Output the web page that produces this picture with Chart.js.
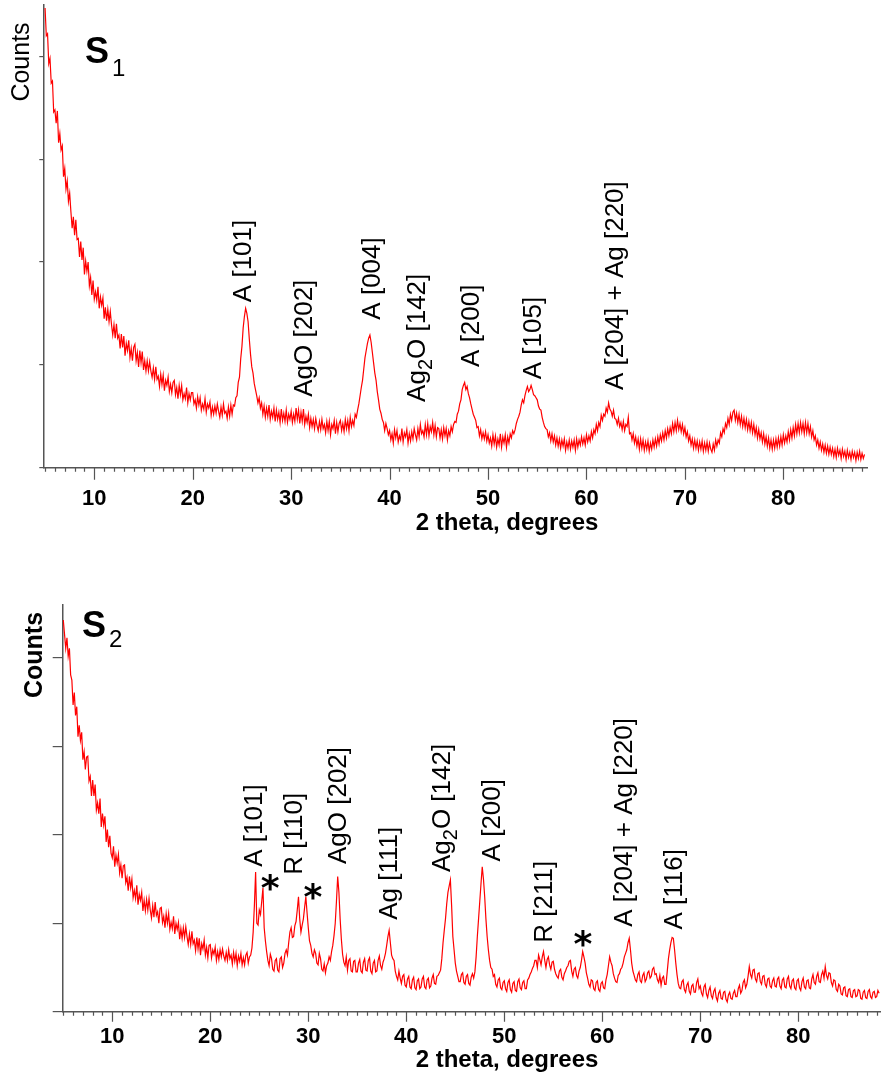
<!DOCTYPE html>
<html>
<head>
<meta charset="utf-8">
<script src="https://cdn.jsdelivr.net/npm/chart.js@4.4.1/dist/chart.umd.min.js"></script>
<style>
  html, body { margin: 0; padding: 0; background: #fff; }
  #wrap { position: relative; width: 881px; height: 1079px; }
  canvas { position: absolute; left: 0; }
  #s1 { top: 0; }
  #s2 { top: 545px; }
</style>
</head>
<body>
<div id="wrap">
  <canvas id="s1" width="881" height="545"></canvas>
  <canvas id="s2" width="881" height="534"></canvas>
</div>
<script>
// scan grid: 2 theta from 5.000 in 0.125 degree steps
const thetaStart = 5.0;
const thetaStep = 0.125;

const xTicks = [10, 20, 30, 40, 50, 60, 70, 80];
const yTicks = [0, 1, 2, 3, 4];

// intensity, arbitrary units (1 = one y tick), one row per 5 degrees
const s1Counts = [
  4.47,4.20,4.22,3.93,3.98,3.74,3.76,3.46,3.48,3.35,3.47,3.16,3.25,3.09,3.13,2.83,2.91,2.71,2.79,2.59,2.67,2.49,2.33,2.44,2.26,2.41,2.22,2.23,2.05,2.20,2.02,2.14,1.88,2.01,1.91,2.00,1.77,1.85,1.68,1.82,
  1.64,1.71,1.63,1.76,1.55,1.66,1.58,1.65,1.45,1.56,1.43,1.54,1.42,1.52,1.39,1.29,1.39,1.26,1.40,1.26,1.29,1.16,1.30,1.17,1.28,1.09,1.21,1.14,1.24,1.07,1.16,1.04,1.17,1.20,1.04,1.12,0.98,1.14,1.02,1.13,
  0.95,1.04,0.94,1.04,0.94,1.03,0.94,0.88,0.97,0.86,0.98,0.86,0.89,0.79,0.91,0.81,0.90,0.75,0.85,0.80,0.88,0.74,0.81,0.73,0.83,0.85,0.71,0.78,0.67,0.80,0.71,0.80,0.66,0.72,0.67,0.78,0.63,0.72,0.66,0.73,
  0.73,0.62,0.66,0.58,0.69,0.61,0.68,0.56,0.62,0.57,0.67,0.54,0.62,0.58,0.64,0.51,0.59,0.52,0.60,0.53,0.62,0.55,0.49,0.59,0.51,0.62,0.53,0.55,0.48,0.59,0.50,0.61,0.52,0.61,0.60,0.68,0.70,0.83,0.88,1.06,
  1.18,1.36,1.47,1.55,1.50,1.42,1.25,1.10,0.98,0.92,0.82,0.76,0.70,0.63,0.68,0.58,0.63,0.52,0.60,0.49,0.58,0.50,0.61,0.47,0.55,0.49,0.58,0.45,0.56,0.47,0.54,0.44,0.57,0.46,0.53,0.45,0.56,0.44,0.52,0.47,
  0.55,0.44,0.52,0.45,0.58,0.47,0.56,0.43,0.54,0.45,0.57,0.42,0.50,0.44,0.52,0.39,0.48,0.40,0.47,0.38,0.48,0.41,0.36,0.45,0.37,0.47,0.38,0.42,0.34,0.45,0.36,0.45,0.32,0.42,0.38,0.46,0.33,0.44,0.35,0.43,
  0.46,0.36,0.43,0.35,0.47,0.38,0.46,0.36,0.49,0.40,0.46,0.41,0.52,0.49,0.56,0.62,0.70,0.78,0.85,0.96,1.07,1.14,1.21,1.26,1.29,1.22,1.12,1.02,0.92,0.85,0.74,0.66,0.57,0.53,0.47,0.44,0.36,0.43,0.38,0.32,
  0.36,0.27,0.33,0.24,0.37,0.29,0.36,0.25,0.31,0.27,0.38,0.25,0.34,0.30,0.37,0.24,0.33,0.26,0.35,0.28,0.38,0.32,0.27,0.38,0.30,0.42,0.33,0.36,0.30,0.42,0.32,0.43,0.31,0.40,0.35,0.44,0.32,0.41,0.30,0.39,
  0.38,0.29,0.37,0.28,0.39,0.31,0.38,0.27,0.36,0.31,0.40,0.35,0.42,0.45,0.44,0.52,0.55,0.62,0.66,0.76,0.80,0.83,0.76,0.79,0.72,0.68,0.62,0.57,0.52,0.49,0.46,0.39,0.40,0.31,0.37,0.28,0.34,0.28,0.35,0.26,
  0.32,0.24,0.29,0.21,0.32,0.23,0.31,0.20,0.28,0.22,0.33,0.20,0.30,0.24,0.32,0.20,0.30,0.24,0.33,0.29,0.36,0.33,0.37,0.43,0.47,0.50,0.54,0.61,0.66,0.63,0.70,0.75,0.79,0.74,0.76,0.80,0.76,0.71,0.70,0.68,
  0.66,0.60,0.57,0.56,0.49,0.44,0.40,0.38,0.37,0.30,0.34,0.26,0.33,0.25,0.31,0.22,0.29,0.21,0.28,0.19,0.27,0.21,0.28,0.17,0.25,0.19,0.27,0.18,0.26,0.20,0.27,0.17,0.28,0.20,0.27,0.22,0.30,0.23,0.29,0.22,
  0.32,0.25,0.31,0.26,0.35,0.29,0.37,0.33,0.42,0.36,0.44,0.40,0.51,0.46,0.52,0.50,0.58,0.54,0.63,0.57,0.55,0.50,0.56,0.48,0.47,0.42,0.48,0.40,0.44,0.37,0.45,0.36,0.42,0.40,0.49,0.33,0.34,0.27,0.33,0.24,
  0.30,0.21,0.28,0.18,0.28,0.19,0.27,0.17,0.25,0.18,0.26,0.16,0.24,0.18,0.27,0.20,0.28,0.21,0.30,0.23,0.32,0.26,0.34,0.27,0.36,0.29,0.38,0.31,0.39,0.33,0.43,0.35,0.44,0.36,0.46,0.37,0.43,0.35,0.42,0.33,
  0.39,0.30,0.35,0.26,0.31,0.22,0.28,0.19,0.27,0.19,0.26,0.17,0.25,0.18,0.26,0.16,0.24,0.17,0.25,0.16,0.24,0.18,0.15,0.23,0.17,0.27,0.21,0.27,0.24,0.34,0.30,0.38,0.34,0.43,0.39,0.48,0.42,0.52,0.46,0.54,
  0.56,0.46,0.53,0.44,0.52,0.42,0.50,0.40,0.48,0.39,0.47,0.37,0.45,0.36,0.44,0.34,0.42,0.32,0.39,0.29,0.37,0.28,0.34,0.25,0.33,0.23,0.30,0.21,0.29,0.19,0.27,0.18,0.27,0.19,0.28,0.20,0.29,0.21,0.30,0.22,
  0.32,0.24,0.31,0.25,0.35,0.27,0.37,0.29,0.39,0.31,0.42,0.33,0.43,0.34,0.44,0.35,0.43,0.33,0.44,0.34,0.43,0.33,0.40,0.30,0.36,0.27,0.31,0.22,0.27,0.19,0.25,0.17,0.23,0.15,0.22,0.14,0.21,0.13,0.20,0.13,
  0.19,0.11,0.18,0.10,0.19,0.12,0.17,0.09,0.18,0.11,0.16,0.08,0.17,0.10,0.15,0.08,0.16,0.10,0.15,0.07,0.15,0.09,0.16,0.08,0.14,0.09,0.13
];

const s2Counts = [
  4.43,4.27,4.11,4.23,4.02,4.11,3.81,3.75,3.47,3.61,3.35,3.45,3.11,3.24,3.07,3.16,2.85,2.94,2.74,2.88,2.89,2.61,2.66,2.44,2.62,2.44,2.57,2.28,2.36,2.24,2.41,2.09,2.24,2.11,2.21,1.92,2.06,1.86,1.99,1.79,
  1.74,1.87,1.64,1.77,1.68,1.78,1.57,1.66,1.51,1.65,1.66,1.46,1.52,1.37,1.53,1.40,1.50,1.29,1.37,1.28,1.43,1.21,1.33,1.26,1.35,1.14,1.26,1.14,1.27,1.15,1.28,1.15,1.06,1.20,1.07,1.24,1.09,1.13,1.00,1.17,
  1.18,1.01,1.08,0.95,1.11,1.00,1.11,0.93,1.01,0.94,1.08,0.88,1.00,0.93,1.01,0.82,0.94,0.83,0.95,0.84,0.96,0.85,0.76,0.88,0.76,0.91,0.77,0.81,0.69,0.84,0.71,0.83,0.64,0.77,0.71,0.81,0.64,0.73,0.61,0.75,
  0.76,0.61,0.70,0.65,0.73,0.58,0.68,0.59,0.70,0.62,0.71,0.63,0.58,0.67,0.58,0.70,0.60,0.64,0.54,0.67,0.57,0.66,0.52,0.63,0.57,0.66,0.53,0.61,0.53,0.64,0.67,0.55,0.62,0.64,0.72,0.90,1.20,1.58,1.00,0.98,
  1.15,1.10,1.25,1.40,0.95,0.80,0.68,0.58,0.52,0.65,0.60,0.48,0.46,0.58,0.60,0.47,0.45,0.60,0.62,0.50,0.55,0.66,0.70,0.64,0.78,0.90,0.95,0.84,0.85,0.97,1.02,1.15,1.30,1.05,0.90,0.98,1.05,1.18,1.30,1.12,
  0.95,0.80,0.75,0.66,0.62,0.70,0.66,0.55,0.53,0.66,0.60,0.48,0.46,0.54,0.44,0.52,0.55,0.62,0.58,0.68,0.75,0.86,1.00,1.25,1.53,1.35,1.05,0.82,0.65,0.56,0.52,0.62,0.47,0.58,0.60,0.46,0.45,0.57,0.58,0.45,
  0.45,0.55,0.59,0.46,0.44,0.56,0.60,0.47,0.46,0.58,0.61,0.46,0.43,0.55,0.58,0.45,0.46,0.58,0.63,0.52,0.48,0.56,0.60,0.66,0.75,0.85,0.92,0.78,0.64,0.60,0.58,0.46,0.40,0.36,0.46,0.38,0.32,0.40,0.42,0.30,
  0.28,0.37,0.40,0.28,0.26,0.36,0.39,0.27,0.25,0.35,0.37,0.26,0.28,0.37,0.40,0.28,0.26,0.36,0.38,0.27,0.29,0.38,0.42,0.32,0.31,0.40,0.41,0.44,0.47,0.60,0.78,0.92,1.05,1.22,1.35,1.42,1.49,1.20,0.85,0.70,
  0.55,0.46,0.40,0.34,0.34,0.42,0.44,0.33,0.31,0.40,0.42,0.32,0.30,0.39,0.43,0.38,0.45,0.62,0.85,1.05,1.25,1.45,1.64,1.50,1.30,1.05,0.85,0.70,0.58,0.50,0.48,0.40,0.42,0.31,0.28,0.36,0.38,0.27,0.25,0.33,
  0.35,0.26,0.23,0.33,0.36,0.25,0.22,0.32,0.34,0.24,0.23,0.34,0.37,0.27,0.25,0.33,0.35,0.26,0.26,0.36,0.38,0.42,0.45,0.49,0.52,0.58,0.58,0.50,0.64,0.59,0.53,0.62,0.68,0.58,0.50,0.59,0.62,0.53,0.48,0.56,
  0.57,0.48,0.43,0.40,0.38,0.46,0.48,0.39,0.36,0.43,0.46,0.50,0.52,0.57,0.58,0.46,0.40,0.48,0.50,0.41,0.38,0.46,0.50,0.58,0.68,0.62,0.55,0.44,0.38,0.31,0.28,0.36,0.35,0.26,0.24,0.33,0.35,0.25,0.23,0.32,
  0.34,0.27,0.26,0.36,0.42,0.52,0.62,0.56,0.52,0.43,0.38,0.34,0.33,0.41,0.43,0.48,0.50,0.55,0.62,0.66,0.70,0.78,0.83,0.70,0.55,0.46,0.41,0.36,0.34,0.42,0.45,0.35,0.33,0.41,0.44,0.34,0.37,0.44,0.46,0.38,
  0.40,0.48,0.50,0.42,0.43,0.36,0.33,0.41,0.30,0.38,0.40,0.31,0.31,0.45,0.60,0.70,0.78,0.84,0.83,0.70,0.55,0.42,0.32,0.27,0.26,0.34,0.36,0.25,0.22,0.30,0.33,0.23,0.20,0.29,0.31,0.22,0.22,0.33,0.37,0.26,
  0.29,0.21,0.18,0.28,0.31,0.20,0.16,0.24,0.28,0.18,0.15,0.23,0.26,0.16,0.12,0.21,0.24,0.15,0.14,0.22,0.23,0.14,0.11,0.19,0.22,0.15,0.14,0.21,0.24,0.17,0.17,0.26,0.30,0.21,0.24,0.33,0.36,0.27,0.31,0.40,
  0.51,0.42,0.38,0.47,0.48,0.37,0.34,0.43,0.44,0.34,0.31,0.40,0.41,0.31,0.28,0.37,0.38,0.29,0.27,0.35,0.38,0.29,0.28,0.37,0.39,0.29,0.26,0.36,0.38,0.28,0.27,0.37,0.40,0.29,0.26,0.35,0.37,0.27,0.25,0.35,
  0.37,0.27,0.24,0.34,0.38,0.28,0.26,0.35,0.36,0.27,0.26,0.37,0.42,0.33,0.31,0.40,0.44,0.34,0.33,0.42,0.46,0.38,0.51,0.41,0.37,0.44,0.43,0.33,0.29,0.36,0.35,0.25,0.23,0.31,0.29,0.20,0.19,0.27,0.28,0.18,
  0.17,0.25,0.26,0.17,0.16,0.24,0.25,0.17,0.18,0.25,0.24,0.15,0.14,0.22,0.24,0.16,0.15,0.23,0.25,0.17,0.15,0.22,0.23,0.16,0.17,0.24,0.21
];

// peak labels: '_' marks a subscript character; "at" = level of the label's lower end
const s1Peaks = [
  { label: 'A [101]', theta: 25.2, at: 1.61 },
  { label: 'AgO [202]', theta: 31.4, at: 0.69 },
  { label: 'A [004]', theta: 38.3, at: 1.44 },
  { label: 'Ag_2O [142]', theta: 42.9, at: 0.64 },
  { label: 'A [200]', theta: 48.4, at: 0.98 },
  { label: 'A [105]', theta: 54.7, at: 0.86 },
  { label: 'A [204] + Ag [220]', theta: 62.95, at: 0.755 }
];
const s1Stars = [];

const s2Peaks = [
  { label: 'A [101]', theta: 24.56, at: 1.64 },
  { label: 'R [110]', theta: 28.64, at: 1.55 },
  { label: 'AgO [202]', theta: 33.13, at: 1.67 },
  { label: 'Ag [111]', theta: 38.34, at: 1.04 },
  { label: 'Ag_2O [142]', theta: 43.75, at: 1.58 },
  { label: 'A [200]', theta: 48.85, at: 1.70 },
  { label: 'R [211]', theta: 54.16, at: 0.78 },
  { label: 'A [204] + Ag [220]', theta: 62.32, at: 0.96 },
  { label: 'A [116]', theta: 67.42, at: 0.93 }
];
const s2Stars = [
  { theta: 26.1, at: 1.49 },
  { theta: 30.48, at: 1.39 },
  { theta: 58.03, at: 0.85 }
];

const FONT = "'Liberation Sans', Arial, Helvetica, sans-serif";
const AXIS = '#555555';
Chart.defaults.font.family = FONT;

function drawPeakLabel(ctx, px, py, text, size) {
  ctx.save();
  ctx.translate(px, py);
  ctx.rotate(-Math.PI / 2);
  ctx.textBaseline = 'middle';
  ctx.textAlign = 'left';
  let u = 0;
  text.split('_').forEach((part, i) => {
    let body = part;
    if (i > 0) {
      ctx.font = Math.round(size * 0.78) + 'px ' + FONT;
      ctx.fillText(part[0], u, size * 0.32);
      u += ctx.measureText(part[0]).width;
      body = part.slice(1);
    }
    ctx.font = size + 'px ' + FONT;
    ctx.fillText(body, u, 0);
    u += ctx.measureText(body).width;
  });
  ctx.restore();
}

function makeDecor(cfg) {
  return {
    id: 'xrdDecor',
    afterDraw(chart) {
      const { ctx, chartArea: area, scales: { x, y } } = chart;
      ctx.save();

      // minor / major tick marks on the 2 theta axis
      ctx.strokeStyle = AXIS;
      ctx.lineWidth = 1.2;
      ctx.beginPath();
      for (let t = Math.ceil(x.min); t <= Math.floor(x.max); t++) {
        const px = Math.round(x.getPixelForValue(t)) + 0.5;
        const len = t % 10 === 0 ? cfg.majorTick : cfg.minorTick;
        ctx.moveTo(px, area.bottom);
        ctx.lineTo(px, area.bottom + len);
      }
      ctx.stroke();

      ctx.fillStyle = '#000';
      cfg.peaks.forEach(p => {
        drawPeakLabel(ctx, x.getPixelForValue(p.theta), y.getPixelForValue(p.at), p.label, cfg.labelSize);
      });

      ctx.font = 'bold 36px "DejaVu Sans", ' + FONT;
      ctx.textAlign = 'center';
      ctx.textBaseline = 'alphabetic';
      cfg.stars.forEach(s => {
        ctx.fillText('*', x.getPixelForValue(s.theta), y.getPixelForValue(s.at) + 36 * 0.55);
      });

      // sample name
      ctx.textAlign = 'left';
      ctx.font = 'bold 36px ' + FONT;
      ctx.fillText('S', cfg.nameX, cfg.nameY);
      ctx.font = '24px ' + FONT;
      ctx.fillText(cfg.sub, cfg.nameX + 27, cfg.nameY + cfg.subDrop);

      // y axis title
      ctx.save();
      ctx.translate(cfg.countsX, cfg.countsY);
      ctx.rotate(-Math.PI / 2);
      ctx.textAlign = 'center';
      ctx.font = (cfg.countsBold ? 'bold ' : '') + '25px ' + FONT;
      ctx.fillText('Counts', 0, 0);
      ctx.restore();

      // x axis title
      ctx.textAlign = 'center';
      ctx.font = 'bold 24px ' + FONT;
      ctx.fillText('2 theta, degrees', 507, cfg.titleY);

      ctx.restore();
    }
  };
}

function makeChart(id, counts, p) {
  const points = counts.map((c, i) => ({ x: thetaStart + i * thetaStep, y: c }));
  return new Chart(document.getElementById(id), {
    type: 'line',
    data: {
      datasets: [{
        data: points,
        borderColor: '#ff0000',
        borderWidth: 1.2,
        pointRadius: 0,
        tension: 0
      }]
    },
    options: {
      responsive: false,
      animation: false,
      devicePixelRatio: 1,
      parsing: false,
      layout: { autoPadding: false, padding: { top: p.top, right: p.right, left: 0, bottom: 0 } },
      plugins: { legend: { display: false }, tooltip: { enabled: false } },
      scales: {
        x: {
          type: 'linear',
          min: p.xMin,
          max: p.xMax,
          afterBuildTicks: s => { s.ticks = xTicks.map(v => ({ value: v })); },
          afterFit: s => { s.height = p.xHeight; },
          grid: { display: false, drawTicks: false },
          border: { color: AXIS, width: 1.5 },
          ticks: {
            color: '#000',
            font: { size: 22, weight: 'bold' },
            padding: p.tickPad,
            maxRotation: 0,
            autoSkip: false
          }
        },
        y: {
          min: 0,
          max: p.yMax,
          afterBuildTicks: s => { s.ticks = yTicks.map(v => ({ value: v })); },
          afterFit: s => { s.width = p.yWidth; },
          grid: { drawOnChartArea: false, drawTicks: true, tickLength: p.yTick, color: AXIS, lineWidth: 1.2 },
          border: { color: AXIS, width: 1.5 },
          ticks: { display: false }
        }
      }
    },
    plugins: [makeDecor(p.decor)]
  });
}

makeChart('s1', s1Counts, {
  top: 5, right: 14, xMin: 4.82, xMax: 88.5, xHeight: 77.3, yWidth: 43.3, yMax: 4.5,
  yTick: 4, tickPad: 18,
  decor: {
    majorTick: 12, minorTick: 4, peaks: s1Peaks, stars: s1Stars, labelSize: 26,
    nameX: 85, nameY: 63, sub: '1', subDrop: 13,
    countsX: 29, countsY: 62, countsBold: false, titleY: 530
  }
});

makeChart('s2', s2Counts, {
  top: 60, right: 0, xMin: 4.94, xMax: 88.44, xHeight: 67.3, yWidth: 62.7, yMax: 4.6,
  yTick: 10, tickPad: 12,
  decor: {
    majorTick: 10, minorTick: 4, peaks: s2Peaks, stars: s2Stars, labelSize: 26,
    nameX: 82, nameY: 92, sub: '2', subDrop: 10,
    countsX: 42, countsY: 110, countsBold: true, titleY: 522
  }
});
</script>
</body>
</html>
